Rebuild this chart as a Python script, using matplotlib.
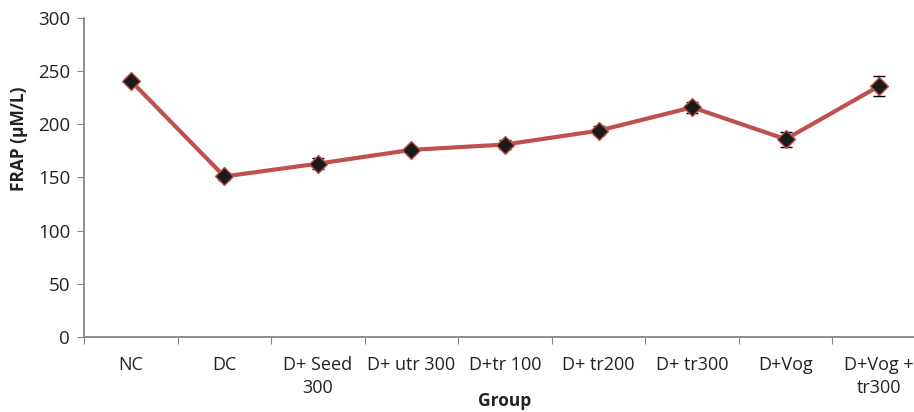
import matplotlib
matplotlib.use("Agg")
import matplotlib.pyplot as plt
import numpy as np

categories = ["NC", "DC", "D+ Seed\n300", "D+ utr 300", "D+tr 100", "D+ tr200", "D+ tr300", "D+Vog", "D+Vog +\ntr300"]
frap = [241, 151, 163, 176, 181, 194, 216, 186, 236]
err = [3, 3, 5, 3, 4, 4, 5, 7, 9]

plt.rcParams['font.family'] = ['Open Sans', 'DejaVu Sans']

fig = plt.figure(figsize=(9.14, 4.12), dpi=100)
ax = fig.add_axes([84/914, 75/412, 842/914, 319/412])

x = np.arange(len(categories))
ax.errorbar(x, frap, yerr=err, color='#C0504D', lw=3, ecolor='black', elinewidth=1.2,
            capsize=4, capthick=1.2, marker='D', markersize=9, markerfacecolor='#1a1a1a',
            markeredgecolor='#C0504D', markeredgewidth=1, zorder=3)

ax.set_xlim(-0.5, len(categories) - 0.5)
ax.set_ylim(0, 300)
ax.set_yticks(np.arange(0, 301, 50))

ax.set_xticks(np.arange(-0.5, len(categories), 1.0))
ax.set_xticklabels([])
ax.set_xticks(x, minor=True)
ax.set_xticklabels(categories, minor=True, fontsize=13, color='#222222', linespacing=1.3)
ax.tick_params(axis='x', which='minor', length=0, pad=14)
ax.tick_params(axis='x', which='major', length=5, color='#868686', direction='out')
ax.tick_params(axis='y', length=5, color='#868686', labelsize=13.5, labelcolor='#222222', pad=5)

for s in ['top', 'right']:
    ax.spines[s].set_visible(False)
for s in ['left', 'bottom']:
    ax.spines[s].set_color('#868686')
    ax.spines[s].set_linewidth(1.3)

ax.set_ylabel("FRAP (µM/L)", fontsize=12.5, fontweight='bold', color='#222222')
ax.yaxis.set_label_coords(-0.066, 0.62)
ax.set_xlabel("Group", fontsize=12.5, fontweight='bold', color='#222222')
ax.xaxis.set_label_coords(0.5, -0.172)

fig.savefig("out.png", dpi=100)
